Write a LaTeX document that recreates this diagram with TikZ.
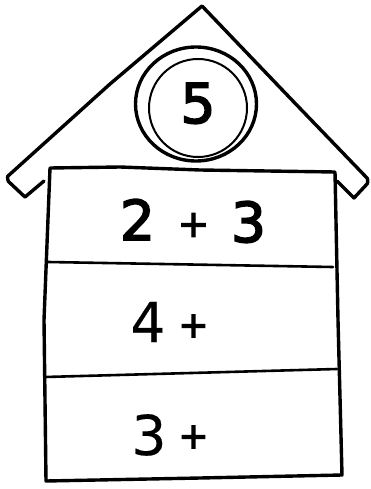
\documentclass[tikz,border=0pt]{standalone}
\usepackage{fontspec}
\setmainfont{DejaVu Sans}
\newfontfamily\medfont[FakeBold=3]{DejaVu Sans}
\newfontfamily\regfont[FakeBold=0.3]{DejaVu Sans}
\usetikzlibrary{shapes.geometric}
\begin{document}
\begin{tikzpicture}[x=1pt,y=-1pt,
  ink/.style={draw=black,line width=3.4pt,line join=round,line cap=round},
  thin/.style={draw=black,line width=2.6pt,line cap=round},
  digit/.style={inner sep=0pt,anchor=base,font=\fontsize{55}{60}\regfont},
  bdigit/.style={digit,font=\fontsize{55}{60}\medfont},
  plus/.style={inner sep=0pt,anchor=center,font=\fontsize{36}{40}\medfont},
  bplus/.style={plus,font=\fontsize{38}{40}\medfont}]
\useasboundingbox (0,0) rectangle (370,489);
\fill[white] (0,0) rectangle (370,489);
% roof
\draw[ink] (44,181) -- (25,197) -- (9,182) to[out=225,in=135,looseness=0.6] (8,176) -- (110,84) -- (202,6) -- (290,98) -- (367,178) to[out=-45,in=45,looseness=0.6] (367,184) -- (354,198) -- (337,181);
% body
\coordinate (tl) at (50,168);
\coordinate (tr) at (335,172);
\coordinate (bl) at (46,481);
\coordinate (br) at (342,475);
\draw[ink] (tl) -- (120,167) -- (200,170) -- (tr) -- (338,320) -- (br) -- (200,478) -- (bl) -- (44,320) -- cycle;
% dividers
\coordinate (d1l) at (48,262);
\coordinate (d1r) at (333,267);
\coordinate (d2l) at (45,377);
\coordinate (d2r) at (337,369);
\draw[thin] (d1l) -- (d1r);
\draw[thin] (d2l) -- (d2r);
% circle
\node[draw=black,line width=3.4pt,ellipse,minimum width=121pt,minimum height=114pt,inner sep=0pt] (outer) at (196,104) {};
\node[draw=black,line width=2pt,circle,minimum size=98pt,inner sep=0pt] (inner) at (198,108) {};
\node[bdigit] (five) at (198,123) {5};
% row 1
\node[bdigit] (a2) at (137.5,240) {2};
\node[bplus] (ap) at (193.5,225) {+};
\node[bdigit] (a3) at (248.5,242) {3};
% row 2
\node[digit] (b4) at (148,342) {4};
\node[plus] (bp) at (193.5,326) {+};
% row 3
\node[digit] (c3) at (149,455) {3};
\node[plus] (cp) at (193.5,437) {+};
\end{tikzpicture}
\end{document}
